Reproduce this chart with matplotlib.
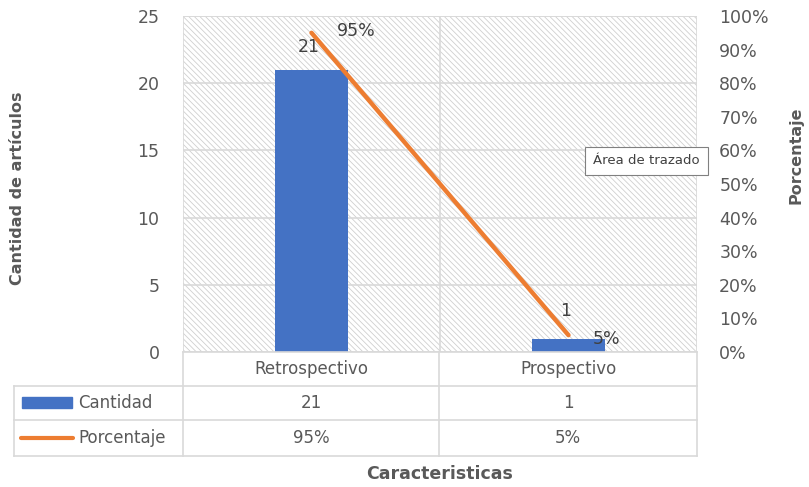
import matplotlib
matplotlib.use("Agg")
import matplotlib.pyplot as plt
from matplotlib.patches import Rectangle
from matplotlib.lines import Line2D

# --- datos ---
categorias = ["Retrospectivo", "Prospectivo"]
cantidad = [21, 1]
porcentaje = [95, 5]
ticks_izq = [0, 5, 10, 15, 20, 25]
ticks_der = [0, 10, 20, 30, 40, 50, 60, 70, 80, 90, 100]

AZUL = "#4472C4"
NARANJA = "#ED7D31"
GRIS = "#595959"
LINEA = "#D9D9D9"

plt.rcParams["font.family"] = ["DejaVu Sans"]
plt.rcParams["hatch.linewidth"] = 0.6
plt.rcParams["hatch.color"] = "#CFCFCF"

W, H = 809, 487
fig = plt.figure(figsize=(W / 100, H / 100), dpi=100)

# area de trazado en pixeles
x0, x1, ytop, ybot = 183, 697, 16, 352
ax = fig.add_axes([x0 / W, 1 - ybot / H, (x1 - x0) / W, (ybot - ytop) / H])
ax2 = ax.twinx()

# fondo rayado
ax.add_patch(Rectangle((0, 0), 1, 1, transform=ax.transAxes, facecolor="white",
                       hatch="\\\\\\\\\\\\", edgecolor="#CFCFCF", linewidth=0, zorder=0))

xs = range(len(categorias))
ax.bar(xs, cantidad, width=73 / 257, color=AZUL, zorder=3)
ax.set_xlim(-0.5, len(categorias) - 0.5)
ax.set_ylim(0, 25)
ax.set_yticks(ticks_izq)
ax.set_xticks([])
ax.grid(axis="y", color=LINEA, linewidth=1.2, zorder=1)
ax.set_axisbelow(True)
for s in ax.spines.values():
    s.set_visible(False)
for s in ax2.spines.values():
    s.set_visible(False)
ax.tick_params(axis="y", length=0, labelsize=12.5, labelcolor=GRIS, pad=17)

ax2.plot(xs, porcentaje, color=NARANJA, linewidth=3.2, solid_capstyle="round", zorder=4)
ax2.set_ylim(0, 100)
ax2.set_yticks(ticks_der)
ax2.set_yticklabels([f"{t}%" for t in ticks_der])
ax2.tick_params(axis="y", length=0, labelsize=12.5, labelcolor=GRIS, pad=16)

# lineas verticales entre categorias y bordes
for xv in [-0.5, 0.5, 1.5]:
    ax.axvline(xv, color=LINEA, linewidth=1.2, zorder=1)
ax.axhline(25, color=LINEA, linewidth=1.2, zorder=1)

# etiquetas de datos
ax.annotate(str(cantidad[0]), (0, porcentaje[0] / 4), xytext=(-2, -10), textcoords="offset points",
            ha="center", va="center", fontsize=12.5, color="#404040", zorder=5)
ax2.annotate(f"{porcentaje[0]}%", (0, porcentaje[0]), xytext=(32, 1), textcoords="offset points",
             ha="center", va="center", fontsize=12.5, color="#404040", zorder=5)
ax.annotate(str(cantidad[1]), (1, cantidad[1]), xytext=(-2, 20), textcoords="offset points",
            ha="center", va="center", fontsize=12.5, color="#404040", zorder=5)
ax2.annotate(f"{porcentaje[1]}%", (1, porcentaje[1]), xytext=(27, -3), textcoords="offset points",
             ha="center", va="center", fontsize=12.5, color="#404040", zorder=5)

# tabla de datos debajo del grafico
def fx(px):
    return px / W

def fy(py):
    return 1 - py / H

filas = [352, 386, 420, 456]
for i, py in enumerate(filas):
    xa = x0 if i == 0 else 14
    fig.add_artist(Line2D([fx(xa), fx(x1)], [fy(py), fy(py)], color=LINEA, linewidth=1.2))
for px in [14, 183, 439, 697]:
    top = 386 if px == 14 else 352
    fig.add_artist(Line2D([fx(px), fx(px)], [fy(top), fy(456)], color=LINEA, linewidth=1.2))

centros = [311, 568]
for c, cat, n, p in zip(centros, categorias, cantidad, porcentaje):
    fig.text(fx(c), fy(369), cat, ha="center", va="center", fontsize=12, color=GRIS)
    fig.text(fx(c), fy(403), str(n), ha="center", va="center", fontsize=12, color=GRIS)
    fig.text(fx(c), fy(438), f"{p}%", ha="center", va="center", fontsize=12, color=GRIS)

fig.add_artist(Rectangle((fx(22), fy(408)), fx(50), 11 / H, color=AZUL))
fig.add_artist(Line2D([fx(21), fx(73)], [fy(438), fy(438)], color=NARANJA, linewidth=3,
                      solid_capstyle="round"))
fig.text(fx(78), fy(403), "Cantidad", ha="left", va="center", fontsize=12, color=GRIS)
fig.text(fx(78), fy(438), "Porcentaje", ha="left", va="center", fontsize=12, color=GRIS)

# titulos de ejes
fig.text(fx(18), fy(188), "Cantidad de artículos", rotation=90, ha="center", va="center",
         fontsize=11.5, fontweight="bold", color=GRIS)
fig.text(fx(796), fy(155), "Porcentaje", rotation=90, ha="center", va="center",
         fontsize=11.5, fontweight="bold", color=GRIS)
fig.text(fx(440), fy(474), "Caracteristicas", ha="center", va="center",
         fontsize=12.5, fontweight="bold", color=GRIS)

# rotulo emergente
fig.text(fx(593), fy(161), "Área de trazado", ha="left", va="center", fontsize=9.5, color="#404040",
         bbox=dict(boxstyle="square,pad=0.6", facecolor="white", edgecolor="#808080", linewidth=0.8))

fig.savefig("out.png", dpi=100)
